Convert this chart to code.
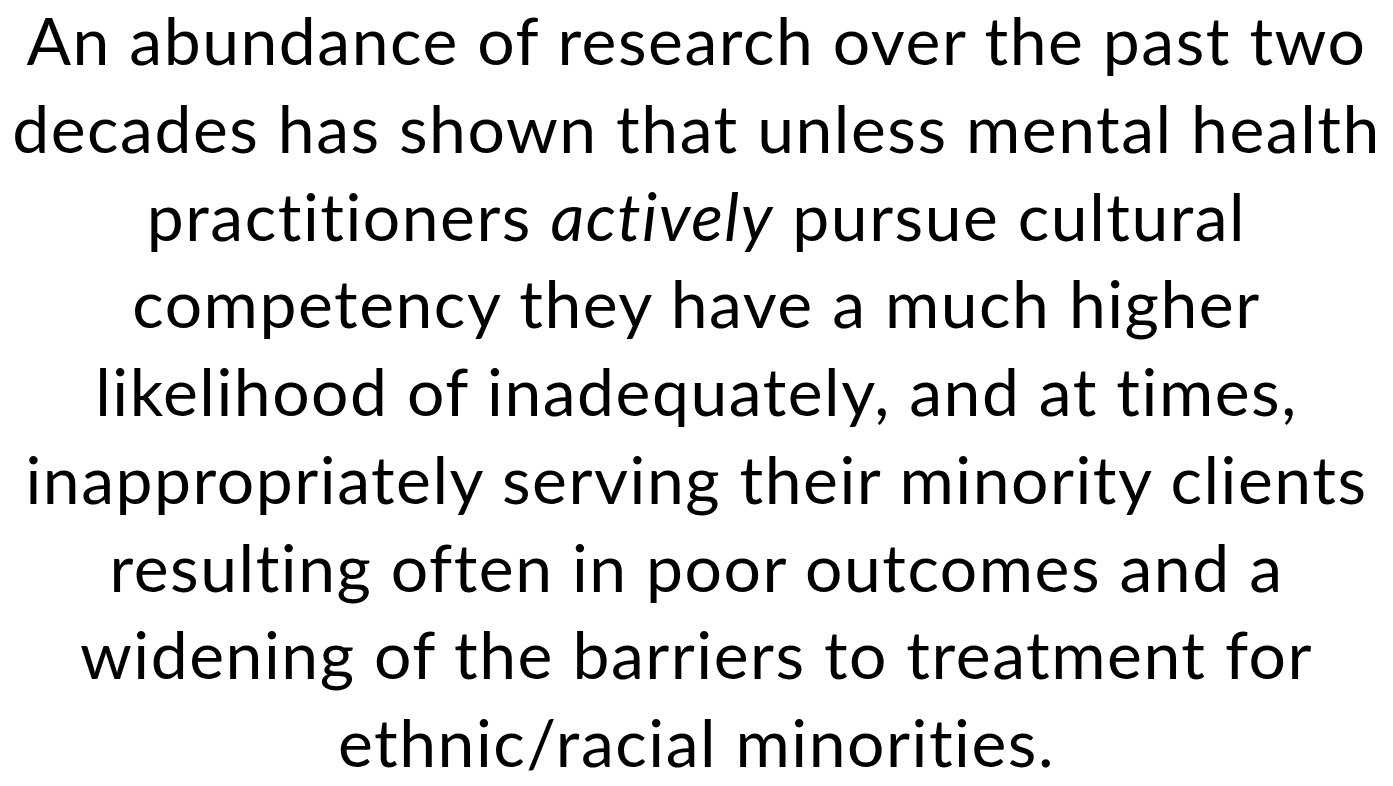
<!DOCTYPE html>
<html lang="en">
<head>
  <meta charset="UTF-8" />
  <title>Cultural competency slide</title>
  <script src="https://cdn.jsdelivr.net/npm/chart.js"></script>
  <style>
    html, body {
      margin: 0;
      padding: 0;
      background: #ffffff;
      width: 1393px;
      height: 786px;
      overflow: hidden;
    }
    #slide {
      position: absolute;
      left: 0;
      top: 6px;
      width: 1393px;
      font-family: 'Lato', 'Open Sans', sans-serif;
      font-size: 66px;
      line-height: 68px;
      color: #000;
      text-align: center;
      font-variant-ligatures: none;
      font-feature-settings: "liga" 0, "clig" 0;
    }
    .line {
      white-space: nowrap;
      display: block;
      height: 68px;
      margin-bottom: 19.75px;
    }
    .line:last-child {
      margin-bottom: 0;
    }
    .line span.inner {
      display: inline-block;
    }
  </style>
</head>
<body>
  <div id="slide"></div>

  <script>
    // slide text, one entry per line; "*" marks italic words
    const lines = [
      "An abundance of research over the past two",
      "decades has shown that unless mental health",
      "practitioners *actively* pursue cultural",
      "competency they have a much higher",
      "likelihood of inadequately, and at times,",
      "inappropriately serving their minority clients",
      "resulting often in poor outcomes and a",
      "widening of the barriers to treatment for",
      "ethnic/racial minorities."
    ];
    // width of the first line in the reference, px
    const firstLineWidth = 1340;

    const slide = document.getElementById("slide");
    const inners = lines.map(text => {
      const row = document.createElement("div");
      row.className = "line";
      const inner = document.createElement("span");
      inner.className = "inner";
      text.split("*").forEach((part, i) => {
        if (i % 2 === 1) {
          const em = document.createElement("i");
          em.textContent = part;
          inner.appendChild(em);
        } else {
          inner.appendChild(document.createTextNode(part));
        }
      });
      row.appendChild(inner);
      slide.appendChild(row);
      return inner;
    });

    // spread the fallback font to the reference's line widths
    const w0 = inners[0].getBoundingClientRect().width;
    const ls = (firstLineWidth - w0) / lines[0].length;
    slide.style.letterSpacing = ls.toFixed(2) + "px";
  </script>
</body>
</html>
